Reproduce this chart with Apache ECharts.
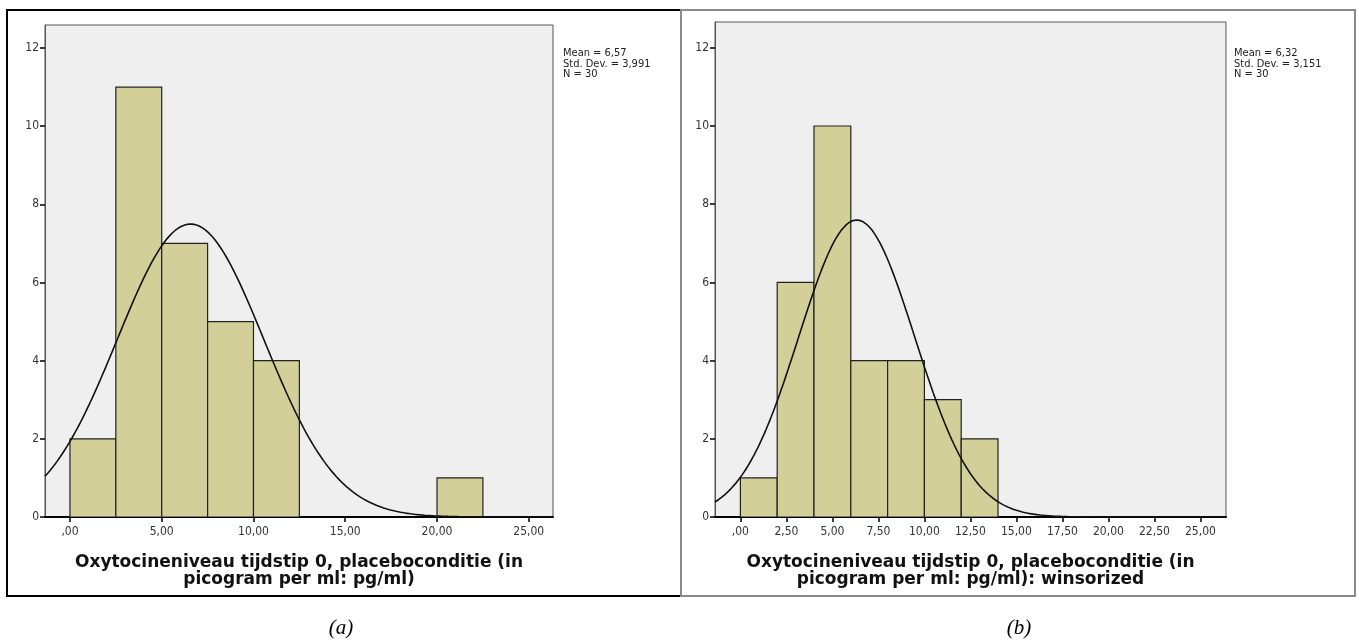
<!DOCTYPE html>
<html>
<head>
<meta charset="utf-8">
<script src="https://cdn.jsdelivr.net/npm/echarts@6/dist/echarts.min.js"></script>
<style>
html,body{margin:0;padding:0;background:#fff;}
#c{width:1359px;height:644px;}
</style>
</head>
<body>
<div id="c"></div>
<script>
// ---- data (a) ----
const binStartA = [0, 2.5, 5, 7.5, 10, 20];
const binWidthA = 2.5;
const countsA = [2, 11, 7, 5, 4, 1];
const meanA = 6.57, sdA = 3.991, nA = 30;
const xTicksA = [0, 5, 10, 15, 20, 25];
const xTickLabelsA = [',00', '5,00', '10,00', '15,00', '20,00', '25,00'];
const statsTextA = ['Mean = 6,57', 'Std. Dev. = 3,991', 'N = 30'];
const xTitleA = 'Oxytocineniveau tijdstip 0, placeboconditie (in\npicogram per ml: pg/ml)';

// ---- data (b) ----
const binStartB = [0, 2, 4, 6, 8, 10, 12];
const binWidthB = 2;
const countsB = [1, 6, 10, 4, 4, 3, 2];
const meanB = 6.32, sdB = 3.151, nB = 30;
const xTicksB = [0, 2.5, 5, 7.5, 10, 12.5, 15, 17.5, 20, 22.5, 25];
const xTickLabelsB = [',00', '2,50', '5,00', '7,50', '10,00', '12,50', '15,00', '17,50', '20,00', '22,50', '25,00'];
const statsTextB = ['Mean = 6,32', 'Std. Dev. = 3,151', 'N = 30'];
const xTitleB = 'Oxytocineniveau tijdstip 0, placeboconditie (in\npicogram per ml: pg/ml): winsorized';

const yTicks = [0, 2, 4, 6, 8, 10, 12];
const yTickLabels = ['0', '2', '4', '6', '8', '10', '12'];

// axis extents
const xRangeA = [-1.36, 26.32];
const xRangeB = [-1.38, 26.39];
const yMaxA = 12.59, yMaxB = 12.66;

const FONT = "'DejaVu Sans Condensed','DejaVu Sans',sans-serif";
const TITLE_FONT = "'DejaVu Sans',sans-serif";

function histData(starts, w, counts) {
  return starts.map((s, i) => [s, s + w, counts[i]]);
}
// fitted normal curve implied by the reported Mean / Std. Dev. / N
function normalCurve(mean, sd, n, w, range) {
  const pts = [];
  const steps = 300;
  for (let i = 0; i <= steps; i++) {
    const x = range[0] + (range[1] - range[0]) * i / steps;
    const z = (x - mean) / sd;
    pts.push([x, n * w / (sd * Math.sqrt(2 * Math.PI)) * Math.exp(-0.5 * z * z)]);
  }
  return pts;
}

function renderBar(params, api) {
  const p0 = api.coord([api.value(0), 0]);
  const p1 = api.coord([api.value(1), api.value(2)]);
  return {
    type: 'rect',
    shape: { x: p0[0], y: p1[1], width: p1[0] - p0[0], height: p0[1] - p1[1] },
    style: { fill: '#d3cf98', stroke: '#222', lineWidth: 1.2 }
  };
}

function xAxis(idx, range, ticks, labels, title) {
  return {
    gridIndex: idx, type: 'value', min: range[0], max: range[1],
    splitLine: { show: false },
    axisLine: { show: true, onZero: false, lineStyle: { color: '#000', width: 2 } },
    axisTick: { show: true, customValues: ticks, length: 5, lineStyle: { color: '#000', width: 1.5 } },
    axisLabel: { customValues: ticks, margin: 9, color: '#333', fontSize: 12, fontFamily: FONT,
      formatter: v => { const k = ticks.findIndex(t => Math.abs(t - v) < 1e-6); return k >= 0 ? labels[k] : ''; } },
    name: title, nameLocation: 'middle', nameGap: 37,
    nameTextStyle: { fontFamily: TITLE_FONT, fontWeight: 'bold', fontSize: 17, color: '#111', lineHeight: 17, align: 'center' }
  };
}
function yAxis(idx, max) {
  return {
    gridIndex: idx, type: 'value', min: 0, max: max,
    splitLine: { show: false },
    axisLine: { show: true, onZero: false, lineStyle: { color: '#555', width: 1 } },
    axisTick: { show: true, customValues: yTicks, length: 5, lineStyle: { color: '#000', width: 1.5 } },
    axisLabel: { customValues: yTicks, margin: 6, color: '#333', fontSize: 12, fontFamily: FONT,
      formatter: v => { const k = yTicks.findIndex(t => Math.abs(t - v) < 1e-6); return k >= 0 ? yTickLabels[k] : ''; } }
  };
}

const chart = echarts.init(document.getElementById('c'), null, { renderer: 'canvas' });
chart.setOption({
  animation: false,
  backgroundColor: '#fff',
  grid: [
    { left: 45, top: 25, width: 508, height: 492, show: true, backgroundColor: '#efefef', borderColor: '#555', borderWidth: 1 },
    { left: 715, top: 22, width: 511, height: 495, show: true, backgroundColor: '#efefef', borderColor: '#555', borderWidth: 1 }
  ],
  xAxis: [
    xAxis(0, xRangeA, xTicksA, xTickLabelsA, xTitleA),
    xAxis(1, xRangeB, xTicksB, xTickLabelsB, xTitleB)
  ],
  yAxis: [yAxis(0, yMaxA), yAxis(1, yMaxB)],
  series: [
    { type: 'custom', xAxisIndex: 0, yAxisIndex: 0, renderItem: renderBar, data: histData(binStartA, binWidthA, countsA), clip: true },
    { type: 'line', xAxisIndex: 0, yAxisIndex: 0, showSymbol: false, symbol: 'none', clip: true,
      lineStyle: { color: '#111', width: 1.6 }, data: normalCurve(meanA, sdA, nA, binWidthA, xRangeA) },
    { type: 'custom', xAxisIndex: 1, yAxisIndex: 1, renderItem: renderBar, data: histData(binStartB, binWidthB, countsB), clip: true },
    { type: 'line', xAxisIndex: 1, yAxisIndex: 1, showSymbol: false, symbol: 'none', clip: true,
      lineStyle: { color: '#111', width: 1.6 }, data: normalCurve(meanB, sdB, nB, binWidthB, xRangeB) }
  ],
  graphic: [
    { type: 'rect', shape: { x: 7, y: 10, width: 674, height: 586 }, style: { fill: 'none', stroke: '#000', lineWidth: 2 }, silent: true },
    { type: 'rect', shape: { x: 681, y: 10, width: 674, height: 586 }, style: { fill: 'none', stroke: '#8a8a8a', lineWidth: 2 }, silent: true },
    { type: 'text', left: 563, top: 48, style: { text: statsTextA.join('\n'), font: '11px ' + FONT, lineHeight: 10.5, fill: '#222' } },
    { type: 'text', left: 1234, top: 48, style: { text: statsTextB.join('\n'), font: '11px ' + FONT, lineHeight: 10.5, fill: '#222' } },
    { type: 'text', x: 341, y: 628, style: { text: '(a)', font: 'italic 21px "Liberation Serif", serif', fill: '#000', align: 'center', verticalAlign: 'middle' } },
    { type: 'text', x: 1019, y: 628, style: { text: '(b)', font: 'italic 21px "Liberation Serif", serif', fill: '#000', align: 'center', verticalAlign: 'middle' } }
  ]
});
</script>
</body>
</html>
